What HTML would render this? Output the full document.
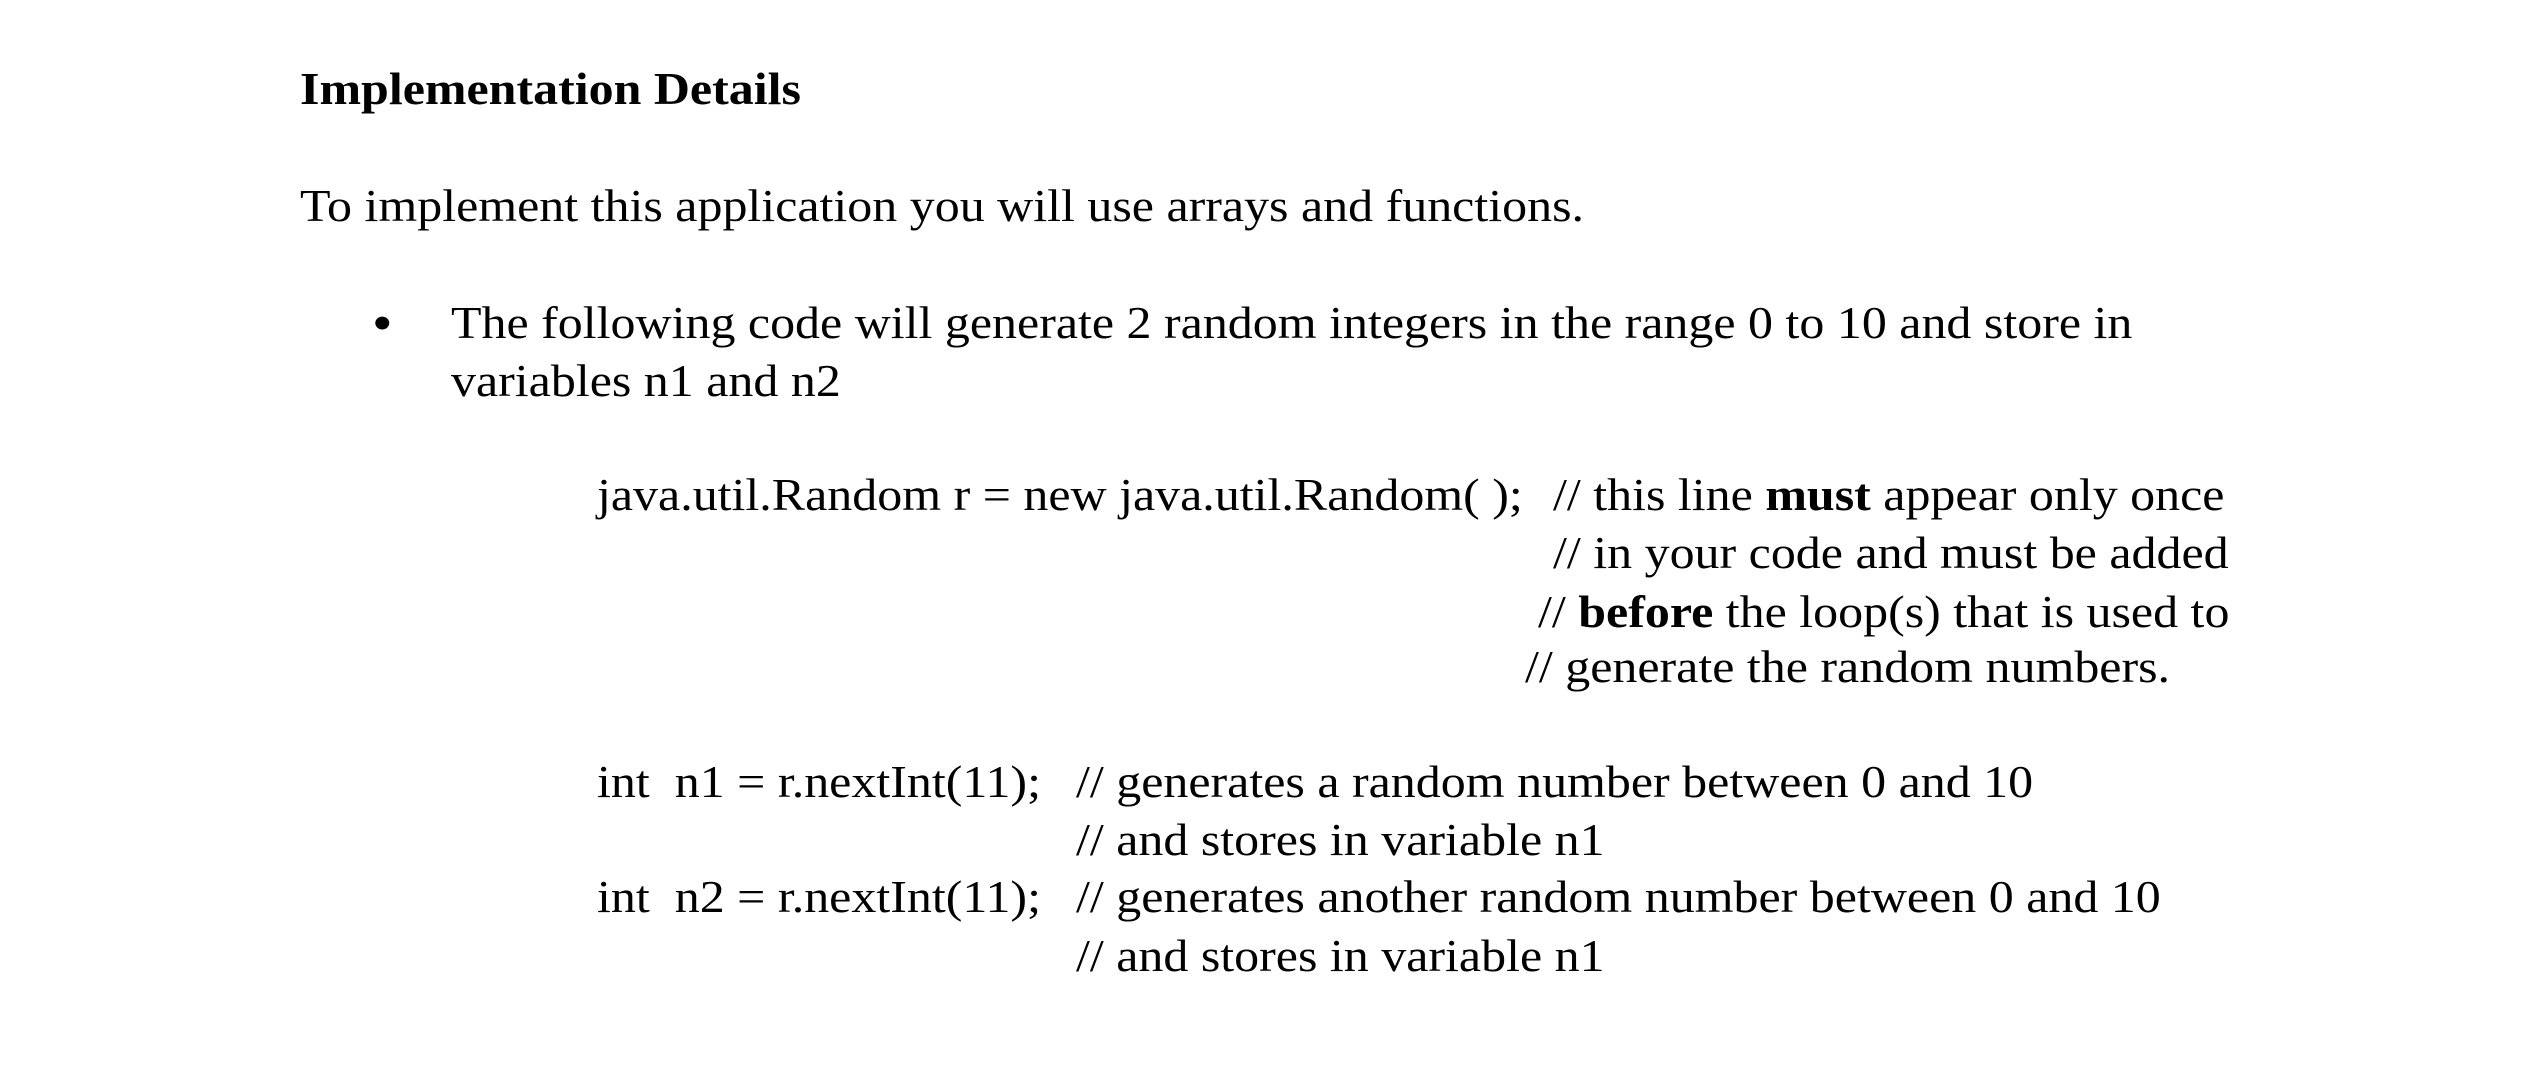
<!DOCTYPE html>
<html><head><meta charset="utf-8"><style>
html,body{margin:0;padding:0;background:#fff;}
body{width:2544px;height:1067px;position:relative;overflow:hidden;font-family:"Liberation Serif",serif;color:#000;font-size:46px;}
.l{position:absolute;line-height:58px;white-space:pre;transform:scaleX(1.086);transform-origin:0 50%;}
b{font-weight:bold;}
</style></head><body>
<div class="l" style="left:300px;top:60px;"><b>Implementation Details</b></div>
<div class="l" style="left:300px;top:177px;">To implement this application you will use arrays and functions.</div>
<div class="l" style="left:372px;top:294px;font-size:54px;">•</div>
<div class="l" style="left:451px;top:294px;">The following code will generate 2 random integers in the range 0 to 10 and store in</div>
<div class="l" style="left:451px;top:352px;">variables n1 and n2</div>
<div class="l" style="left:597px;top:466px;">java.util.Random r = new java.util.Random( );</div>
<div class="l" style="left:1553px;top:466px;">// this line <b>must</b> appear only once</div>
<div class="l" style="left:1553px;top:524px;">// in your code and must be added</div>
<div class="l" style="left:1538px;top:583px;">// <b>before</b> the loop(s) that is used to</div>
<div class="l" style="left:1525px;top:638px;">// generate the random numbers.</div>
<div class="l" style="left:597px;top:753px;">int  n1 = r.nextInt(11);</div>
<div class="l" style="left:1076px;top:753px;">// generates a random number between 0 and 10</div>
<div class="l" style="left:1076px;top:811px;">// and stores in variable n1</div>
<div class="l" style="left:597px;top:868px;">int  n2 = r.nextInt(11);</div>
<div class="l" style="left:1076px;top:868px;">// generates another random number between 0 and 10</div>
<div class="l" style="left:1076px;top:927px;">// and stores in variable n1</div>
</body></html>
